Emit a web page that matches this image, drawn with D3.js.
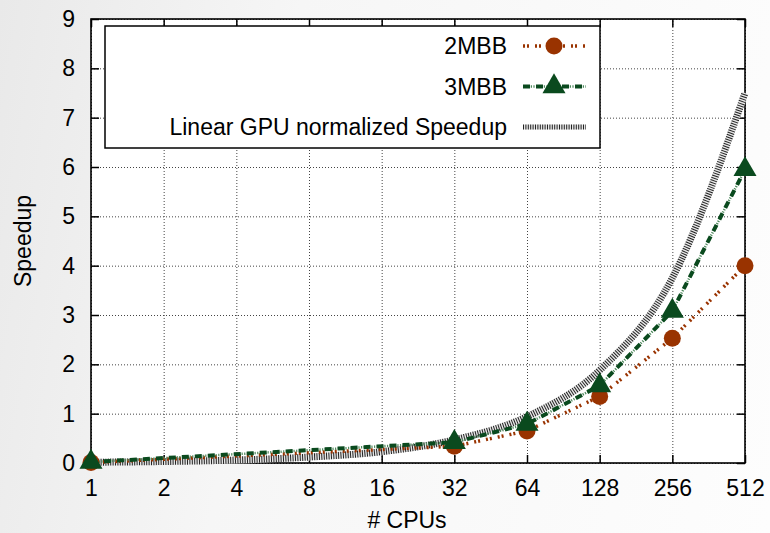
<!DOCTYPE html>
<html>
<head>
<meta charset="utf-8">
<script src="https://cdn.jsdelivr.net/npm/d3@7/dist/d3.min.js"></script>
<style>
  body { margin: 0; background: linear-gradient(100deg, #e9e9e9 0%, #f6f6f6 35%, #fdfdfd 100%); }
  svg { display: block; }
  text { font-family: "Liberation Sans", Arial, sans-serif; font-size: 23px; fill: #000; }
  .grid line { stroke: #444; stroke-width: 1; stroke-dasharray: 1,2; }
  .grid .domain { display: none; }
  .axis line, .axis path { stroke: #000; stroke-width: 1.5; }
  .axis text { font-size: 23px; }
</style>
</head>
<body>
<script>
// x categories (CPU counts) and tick labels
var cpus = [1, 2, 4, 8, 16, 32, 64, 128, 256, 512];
var yTicks = [0, 1, 2, 3, 4, 5, 6, 7, 8, 9];

// measured points
var measuredCpus = [1, 32, 64, 128, 256, 512];
var speedup2MBB = [0.01, 0.34, 0.65, 1.35, 2.53, 4.0];
var speedup3MBB = [0.02, 0.42, 0.79, 1.57, 3.08, 5.95];

// reference line
var linearGPU = [0.015, 0.03, 0.06, 0.12, 0.23, 0.47, 0.94, 1.88, 3.75, 7.5];

var seriesNames = ["2MBB", "3MBB", "Linear GPU normalized Speedup"];

var width = 770, height = 533;
var margin = {top: 19, right: 25, bottom: 70, left: 91};
var w = width - margin.left - margin.right,
    h = height - margin.top - margin.bottom;

var orange = "#993300", green = "#0a4a1e";

var svg = d3.select("body").append("svg")
    .attr("width", width)
    .attr("height", height);

var x = d3.scaleLog().base(2)
    .domain([1, 512])
    .range([0, w]);

var y = d3.scaleLinear()
    .domain([0, 9])
    .range([h, 0]);

var g = svg.append("g")
    .attr("transform", "translate(" + margin.left + "," + margin.top + ")");

g.append("rect")
    .attr("width", w)
    .attr("height", h)
    .attr("fill", "#fff");

// grid
g.append("g")
    .attr("class", "grid")
    .attr("transform", "translate(0," + h + ")")
    .call(d3.axisBottom(x).tickValues(cpus).tickSize(-h).tickFormat(""));

g.append("g")
    .attr("class", "grid")
    .call(d3.axisLeft(y).tickValues(yTicks).tickSize(-w).tickFormat(""));

// axes with inner ticks, mirrored on top and right
g.append("g")
    .attr("class", "axis")
    .call(d3.axisLeft(y).tickValues(yTicks).tickSizeInner(-8).tickSizeOuter(0).tickPadding(16));

g.append("g")
    .attr("class", "axis")
    .attr("transform", "translate(0," + h + ")")
    .call(d3.axisBottom(x).tickValues(cpus).tickFormat(d3.format("d"))
      .tickSizeInner(-8).tickSizeOuter(0).tickPadding(17));

g.append("g")
    .attr("class", "axis")
    .attr("transform", "translate(" + w + ",0)")
    .call(d3.axisRight(y).tickValues(yTicks).tickSizeInner(-8).tickSizeOuter(0).tickFormat(""));

g.append("g")
    .attr("class", "axis")
    .call(d3.axisTop(x).tickValues(cpus).tickSizeInner(-8).tickSizeOuter(0).tickFormat(""));

g.selectAll(".axis .domain").remove();

g.append("rect")
    .attr("width", w)
    .attr("height", h)
    .attr("fill", "none")
    .attr("stroke", "#000")
    .attr("stroke-width", 1.6);

// axis labels
svg.append("text")
    .attr("x", 407)
    .attr("y", 528)
    .attr("text-anchor", "middle")
    .text("# CPUs");

svg.append("text")
    .attr("transform", "translate(31," + (margin.top + h / 2) + ") rotate(-90)")
    .attr("text-anchor", "middle")
    .text("Speedup");

// legend box
var legend = g.append("g")
    .attr("transform", "translate(14,7)");

legend.append("rect")
    .attr("width", 495)
    .attr("height", 122)
    .attr("fill", "#fff")
    .attr("stroke", "#000")
    .attr("stroke-width", 1.5);

var line = d3.line()
    .x(function(d) { return x(d[0]); })
    .y(function(d) { return y(d[1]); });

var smoothLine = d3.line()
    .curve(d3.curveMonotoneX)
    .x(function(d) { return x(d[0]); })
    .y(function(d) { return y(d[1]); });

function drawLinear(sel, pathD, sw) {
  sel.append("path")
      .attr("d", pathD)
      .attr("fill", "none")
      .attr("stroke", "#e6e6e6")
      .attr("stroke-width", sw);
  sel.append("path")
      .attr("d", pathD)
      .attr("fill", "none")
      .attr("stroke", "#222")
      .attr("stroke-width", sw)
      .attr("stroke-dasharray", "1,1.4");
}

function draw2MBB(sel, pathD) {
  sel.append("path")
      .attr("d", pathD)
      .attr("fill", "none")
      .attr("stroke", orange)
      .attr("stroke-width", 3.5)
      .attr("stroke-dasharray", "2,2,2,6");
}

function draw3MBB(sel, pathD) {
  sel.append("path")
      .attr("d", pathD)
      .attr("fill", "none")
      .attr("stroke", "#4f8a5e")
      .attr("stroke-width", 2.5)
      .attr("stroke-dasharray", "1.2,1.4");
  sel.append("path")
      .attr("d", pathD)
      .attr("fill", "none")
      .attr("stroke", green)
      .attr("stroke-width", 4)
      .attr("stroke-dasharray", "7,6");
}

var tri = d3.symbol().type(d3.symbolTriangle).size(230);

var lines = g.append("g");

drawLinear(lines, smoothLine(cpus.map(function(c, i) { return [c, linearGPU[i]]; })), 7);
draw2MBB(lines, line(measuredCpus.map(function(c, i) { return [c, speedup2MBB[i]]; })));
draw3MBB(lines, line(measuredCpus.map(function(c, i) { return [c, speedup3MBB[i]]; })));

lines.selectAll(".dot2")
    .data(measuredCpus)
    .enter().append("circle")
    .attr("class", "dot2")
    .attr("cx", function(d) { return x(d); })
    .attr("cy", function(d, i) { return y(speedup2MBB[i]); })
    .attr("r", 8.5)
    .attr("fill", orange);

lines.selectAll(".tri3")
    .data(measuredCpus)
    .enter().append("path")
    .attr("class", "tri3")
    .attr("d", tri)
    .attr("transform", function(d, i) {
      return "translate(" + x(d) + "," + y(speedup3MBB[i]) + ")";
    })
    .attr("fill", green);

// legend rows
var rowY = [20, 60.5, 101];
var sx0 = 418, sx1 = 481, sxm = 449;

seriesNames.forEach(function(name, i) {
  legend.append("text")
      .attr("x", 402)
      .attr("y", rowY[i])
      .attr("dy", "0.36em")
      .attr("text-anchor", "end")
      .text(name);
});

var seg = function(yy) { return "M" + sx0 + "," + yy + "L" + sx1 + "," + yy; };
draw2MBB(legend, seg(rowY[0]));
draw3MBB(legend, seg(rowY[1]));
drawLinear(legend, seg(rowY[2]), 5);

legend.append("circle")
    .attr("cx", sxm)
    .attr("cy", rowY[0])
    .attr("r", 8.5)
    .attr("fill", orange);

legend.append("path")
    .attr("d", tri)
    .attr("transform", "translate(" + sxm + "," + rowY[1] + ")")
    .attr("fill", green);
</script>
</body>
</html>
